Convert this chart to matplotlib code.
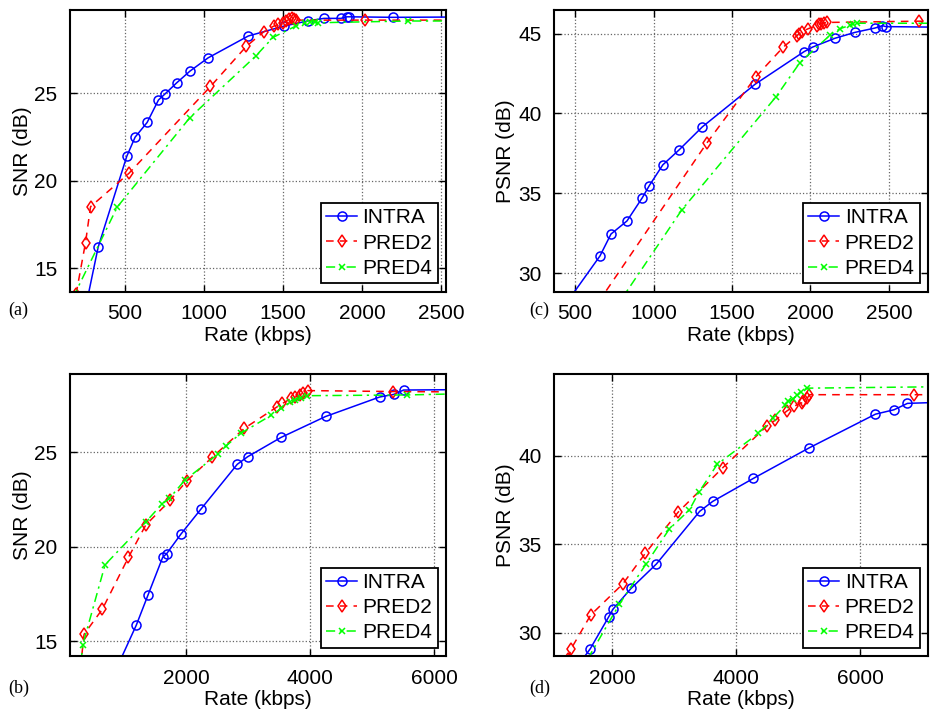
import matplotlib
matplotlib.use('Agg')
import matplotlib.pyplot as plt

plt.rcParams['font.family'] = ['Liberation Sans', 'DejaVu Sans']

# ---- (a) SNR vs rate, top left
a_intra_x = [245, 330, 511, 564, 640, 712, 754, 826, 911, 1026, 1280, 1507, 1660, 1759, 1866, 1904, 1920, 2196, 2650]
a_intra_y = [12.5, 16.2, 21.4, 22.5, 23.34, 24.63, 24.98, 25.6, 26.28, 27.04, 28.29, 28.86, 29.16, 29.3, 29.3, 29.39, 29.39, 29.36, 29.38]
a_pred2_x = [190, 250, 282, 525, 1041, 1268, 1378, 1440, 1470, 1500, 1520, 1540, 1555, 1570, 1580, 2016, 2650]
a_pred2_y = [13.5, 16.46, 18.52, 20.43, 25.4, 27.7, 28.53, 28.85, 28.95, 29.05, 29.15, 29.25, 29.3, 29.25, 29.2, 29.2, 29.2]
a_pred4_x = [170, 451, 911, 1327, 1437, 1581, 1640, 1670, 1700, 1720, 2292, 2650]
a_pred4_y = [13.3, 18.5, 23.62, 27.14, 28.21, 28.86, 29.05, 29.1, 29.1, 29.05, 29.15, 29.15]

# ---- (c) PSNR vs rate, top right
c_intra_x = [450, 659, 729, 831, 929, 973, 1059, 1164, 1311, 1647, 1959, 2014, 2156, 2284, 2411, 2458, 2480, 2850]
c_intra_y = [28.2, 31.08, 32.45, 33.27, 34.73, 35.48, 36.78, 37.73, 39.16, 41.83, 43.87, 44.16, 44.71, 45.08, 45.35, 45.5, 45.44, 45.4]
c_pred2_x = [650, 1339, 1653, 1827, 1912, 1929, 1944, 1986, 2039, 2055, 2070, 2085, 2103, 2693, 2850]
c_pred2_y = [28.2, 38.14, 42.31, 44.16, 44.85, 45.0, 45.12, 45.31, 45.5, 45.58, 45.63, 45.68, 45.7, 45.78, 45.72]
c_pred4_x = [780, 1180, 1780, 1933, 2124, 2188, 2252, 2273, 2294, 2850]
c_pred4_y = [28.14, 33.96, 41.04, 43.19, 44.9, 45.31, 45.52, 45.6, 45.65, 45.65]

# ---- (b) SNR vs rate, bottom left
b_intra_x = [900, 1200, 1388, 1625, 1689, 1915, 2246, 2826, 2993, 3530, 4249, 5118, 5348, 5504, 6400]
b_intra_y = [13.7, 15.86, 17.45, 19.45, 19.64, 20.66, 22.02, 24.37, 24.77, 25.79, 26.9, 27.93, 28.07, 28.3, 28.32]
b_pred2_x = [300, 358, 653, 1072, 1351, 1744, 2010, 2419, 2939, 3467, 3553, 3698, 3751, 3828, 3881, 3962, 5328, 6400]
b_pred2_y = [13.6, 15.37, 16.7, 19.44, 21.15, 22.46, 23.48, 24.73, 26.27, 27.41, 27.59, 27.86, 27.91, 28.04, 28.13, 28.27, 28.22, 28.2]
b_pred4_x = [310, 336, 696, 1356, 1609, 1732, 1981, 2508, 2641, 2878, 3376, 3537, 3675, 3760, 3850, 3943, 5552, 6400]
b_pred4_y = [13.9, 14.8, 19.05, 21.33, 22.25, 22.56, 23.53, 24.89, 25.33, 26.0, 26.97, 27.33, 27.66, 27.78, 27.9, 28.0, 28.04, 28.1]

# ---- (d) PSNR vs rate, bottom right
d_intra_x = [1500, 1645, 1942, 2011, 2302, 2711, 3411, 3621, 4278, 5176, 6249, 6550, 6766, 7300]
d_intra_y = [28.4, 29.1, 30.9, 31.33, 32.5, 33.88, 36.86, 37.42, 38.72, 40.44, 42.35, 42.6, 42.96, 43.02]
d_pred2_x = [1290, 1333, 1651, 2168, 2532, 3060, 3782, 4503, 4627, 4815, 4933, 5058, 5083, 5148, 5181, 6868, 7300]
d_pred2_y = [28.5, 29.08, 31.0, 32.75, 34.48, 36.8, 39.32, 41.7, 42.0, 42.52, 42.8, 42.99, 43.07, 43.25, 43.45, 43.45, 43.45]
d_pred4_x = [1600, 2112, 2544, 2920, 3243, 3404, 3695, 4357, 4599, 4788, 4842, 4923, 4987, 5042, 5148, 7300]
d_pred4_y = [28.5, 31.6, 33.88, 35.86, 36.93, 37.97, 39.52, 41.26, 42.14, 42.84, 43.07, 43.22, 43.41, 43.63, 43.82, 43.9]

names = ['INTRA', 'PRED2', 'PRED4']

fig = plt.figure(figsize=(9.3, 7.14), dpi=100)

panels = [
    ([0.0753, 0.5917, 0.4043, 0.3943], (a_intra_x, a_intra_y, a_pred2_x, a_pred2_y, a_pred4_x, a_pred4_y),
     (152, 2532), (13.66, 29.78), [500, 1000, 1500, 2000, 2500], [15, 20, 25], 'SNR (dB)', '(a)', (8, 310)),
    ([0.5957, 0.5917, 0.4022, 0.3943], (c_intra_x, c_intra_y, c_pred2_x, c_pred2_y, c_pred4_x, c_pred4_y),
     (366, 2749), (28.85, 46.48), [500, 1000, 1500, 2000, 2500], [30, 35, 40, 45], 'PSNR (dB)', '(c)', (529, 310)),
    ([0.0753, 0.0812, 0.4043, 0.3945], (b_intra_x, b_intra_y, b_pred2_x, b_pred2_y, b_pred4_x, b_pred4_y),
     (132, 6188), (14.22, 29.13), [2000, 4000, 6000], [15, 20, 25], 'SNR (dB)', '(b)', (8, 688)),
    ([0.5957, 0.0812, 0.4022, 0.3945], (d_intra_x, d_intra_y, d_pred2_x, d_pred2_y, d_pred4_x, d_pred4_y),
     (1058, 7098), (28.68, 44.6), [2000, 4000, 6000], [30, 35, 40], 'PSNR (dB)', '(d)', (529, 688)),
]

for rect, data, xl, yl, xt, yt, ylab, tag, tagpos in panels:
    ax = fig.add_axes(rect)
    ix, iy, p2x, p2y, p4x, p4y = data
    ax.plot(ix, iy, color='#0000ff', ls='-', lw=1.1, marker='o', ms=6.5, mfc='none', mew=1.1, label=names[0])
    ax.plot(p2x, p2y, color='#ff0000', ls=(0, (5, 4)), lw=1.1, marker='d', ms=6.5, mfc='none', mew=1.1, label=names[1])
    ax.plot(p4x, p4y, color='#00ff00', ls=(0, (6, 3, 1.5, 3)), lw=1.1, marker='x', ms=5, mew=1.1, label=names[2])
    ax.set_xlim(xl)
    ax.set_ylim(yl)
    ax.set_xticks(xt)
    ax.set_yticks(yt)
    ax.grid(True, ls=':', color='0.4', lw=0.9)
    ax.tick_params(direction='in', top=True, right=True, length=5, width=1, labelsize=15)
    ax.tick_params(axis='x', pad=9)
    ax.tick_params(axis='y', pad=9)
    for s in ax.spines.values():
        s.set_linewidth(1.5)
    ax.set_xlabel('Rate (kbps)', fontsize=15, labelpad=2)
    ax.set_ylabel(ylab, fontsize=15, labelpad=2)
    leg = ax.legend(loc='lower right', fontsize=15, frameon=True, fancybox=False, framealpha=1,
                    edgecolor='black', borderaxespad=0.4, handlelength=1.5, handletextpad=0.25,
                    borderpad=0.25, labelspacing=0.3)
    leg.get_frame().set_linewidth(1.3)
    fig.text(tagpos[0] / 930, 1 - tagpos[1] / 714, tag, fontsize=13, family=['Liberation Serif', 'DejaVu Serif'],
             ha='left', va='center')

fig.savefig('out.png', dpi=100)
